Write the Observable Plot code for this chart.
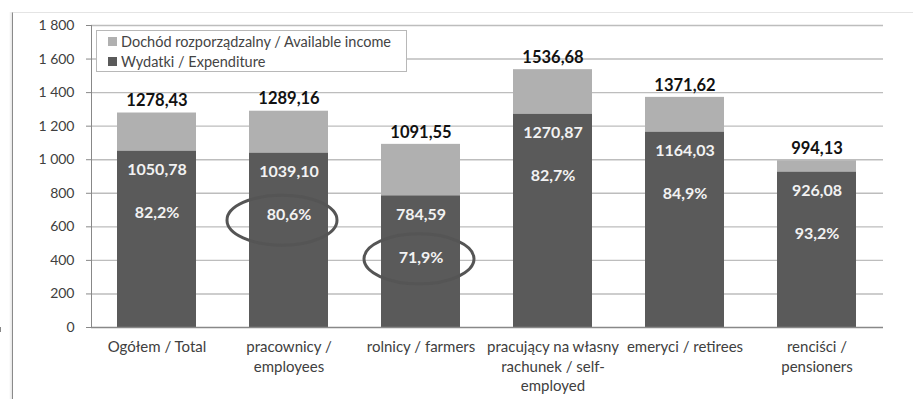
<!DOCTYPE html>
<html>
<head>
<meta charset="utf-8">
<script src="https://cdn.jsdelivr.net/npm/d3@7"></script>
<script src="https://cdn.jsdelivr.net/npm/@observablehq/plot@0.6"></script>
<style>
  html, body { margin: 0; padding: 0; background: #fff; }
  #wrap { position: relative; width: 913px; height: 399px; overflow: hidden; font-family: Lato, "Open Sans", sans-serif; }
  #frame { position: absolute; left: 12px; top: 12px; right: 0; bottom: 0; border-left: 1px solid #8a8a8a; border-top: 1px solid #e4e4e4; pointer-events: none; }
  #shade { position: absolute; left: 9px; top: 12px; width: 3px; bottom: 0; background: linear-gradient(to right, rgba(0,0,0,0), rgba(0,0,0,0.1)); pointer-events: none; }
  #legend { position: absolute; left: 96px; top: 30px; width: 311px; height: 42px; border: 1px solid #b8b8b8; background: #fff; font-size: 14.5px; color: #444; box-sizing: border-box; }
  #legend .item { position: absolute; left: 11px; display: flex; align-items: center; white-space: nowrap; line-height: 17px; }
  #legend .sw { width: 9px; height: 9px; margin-right: 4px; }
</style>
</head>
<body>
<div id="wrap">
  <div id="shade"></div>
  <div id="frame"></div>
  <div id="chart"></div>
  <div id="legend"></div>
</div>
<script>
// ---- data ----
const categories = [
  "Ogółem / Total",
  "pracownicy /\nemployees",
  "rolnicy / farmers",
  "pracujący na własny\nrachunek / self-\nemployed",
  "emeryci / retirees",
  "renciści /\npensioners"
];
const availableIncome = [1278.43, 1289.16, 1091.55, 1536.68, 1371.62, 994.13];
const expenditure = [1050.78, 1039.10, 784.59, 1270.87, 1164.03, 926.08];
const sharePercent = [82.2, 80.6, 71.9, 82.7, 84.9, 93.2];
const circled = ["pracownicy /\nemployees", "rolnicy / farmers"];
const yTicks = [0, 200, 400, 600, 800, 1000, 1200, 1400, 1600, 1800];
const seriesNames = ["Dochód rozporządzalny / Available income", "Wydatki / Expenditure"];

// ---- styling ----
const darkColor = "#5a5a5a";
const lightColor = "#b0b0b0";
const textColor = "#404040";

const rows = categories.map((c, i) => ({
  cat: c, income: availableIncome[i], exp: expenditure[i], pct: sharePercent[i]
}));
const circledRows = rows.filter(d => circled.includes(d.cat));

const pl = d3.formatLocale({decimal: ",", thousands: "\u00a0", grouping: [3], currency: ["", ""]});
const fmtAxis = pl.format(",");
const fmt2 = pl.format(".2f");
const fmt1 = pl.format(".1f");

function ellipseSymbol(rx, ry) {
  const k = 0.5523;
  return {
    draw(ctx) {
      ctx.moveTo(rx, 0);
      ctx.bezierCurveTo(rx, ry * k, rx * k, ry, 0, ry);
      ctx.bezierCurveTo(-rx * k, ry, -rx, ry * k, -rx, 0);
      ctx.bezierCurveTo(-rx, -ry * k, -rx * k, -ry, 0, -ry);
      ctx.bezierCurveTo(rx * k, -ry, rx, -ry * k, rx, 0);
      ctx.closePath();
    }
  };
}

function boundaryTicks(index, scales) {
  const x = scales.x, y = scales.y;
  const step = x.bandwidth / 0.6;
  const g = d3.create("svg:g");
  const y0 = y(0);
  const xs = categories.map(c => x(c) - (step - x.bandwidth) / 2);
  xs.push(x(categories[categories.length - 1]) + x.bandwidth + (step - x.bandwidth) / 2);
  for (const px of xs) {
    g.append("line").attr("x1", px).attr("x2", px).attr("y1", y0).attr("y2", y0 + 5)
      .attr("stroke", "#888").attr("stroke-width", 1);
  }
  return g.node();
}

const chart = Plot.plot({
  width: 913,
  height: 399,
  marginTop: 25,
  marginBottom: 72,
  marginLeft: 91,
  marginRight: 30,
  style: { fontFamily: "Lato, 'Open Sans', sans-serif", fontSize: "14px", color: textColor, background: "transparent" },
  x: { domain: categories, paddingInner: 0.4, paddingOuter: 0.2, label: null },
  y: { domain: [0, 1800], label: null },
  marks: [
    Plot.gridY(yTicks.filter(v => v > 0), { stroke: "#bdbdbd", strokeOpacity: 1, strokeWidth: 1.4 }),
    Plot.barY(rows, { x: "cat", y1: "exp", y2: "income", fill: lightColor }),
    Plot.barY(rows, { x: "cat", y1: 0, y2: "exp", fill: darkColor }),
    Plot.axisY({ ticks: yTicks, tickFormat: fmtAxis, tickSize: 5, tickPadding: 12, stroke: "#888", fill: textColor, fontSize: 14, label: null }),
    Plot.axisX({ tickSize: 0, tickPadding: 11, fill: textColor, fontSize: 15, lineHeight: 1.3, label: null }),
    Plot.ruleY([0], { stroke: "#888", strokeWidth: 1.3 }),
    Plot.frame({ anchor: "left", stroke: "#888" }),
    boundaryTicks,
    Plot.text(rows, { x: "cat", y: "income", text: d => fmt2(d.income), dy: -12, fontWeight: "bold", fill: "#111", fontSize: 16.5 }),
    Plot.text(rows, { x: "cat", y: "exp", text: d => fmt2(d.exp), dy: 19, fontWeight: "bold", fill: "#f2f2f2", fontSize: 16 }),
    Plot.text(rows, { x: "cat", y: "exp", text: d => fmt1(d.pct) + "%", dy: 62, fontWeight: "bold", fill: "#f2f2f2", fontSize: 16 }),
    Plot.dot(circledRows.slice(0, 1), { x: "cat", y: "exp", dy: 67, dx: -7, symbol: ellipseSymbol(55, 25), r: 1, fill: "none", stroke: "#555", strokeWidth: 3 }),
    Plot.dot(circledRows.slice(1), { x: "cat", y: "exp", dy: 63, dx: -2, symbol: ellipseSymbol(55, 25), r: 1, fill: "none", stroke: "#555", strokeWidth: 3 })
  ]
});
document.getElementById("chart").appendChild(chart);

const legend = document.getElementById("legend");
[[seriesNames[0], lightColor, 2], [seriesNames[1], darkColor, 22]].forEach(([name, color, top]) => {
  const it = document.createElement("div");
  it.className = "item";
  it.style.top = top + "px";
  it.innerHTML = `<span class="sw" style="background:${color}"></span><span>${name}</span>`;
  legend.appendChild(it);
});
</script>
</body>
</html>
